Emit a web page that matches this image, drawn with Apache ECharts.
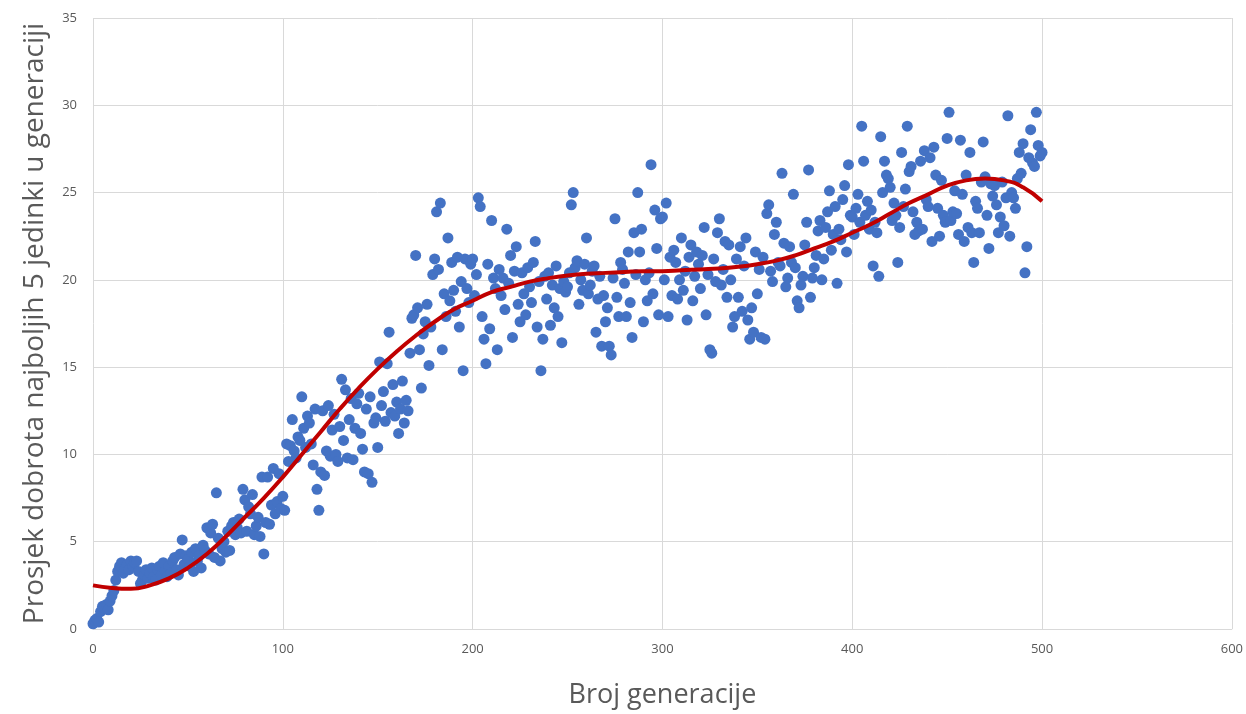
<!DOCTYPE html>
<html>
<head>
<meta charset="utf-8">
<script src="https://cdn.jsdelivr.net/npm/echarts@6/dist/echarts.min.js"></script>
<style>
    html, body { margin: 0; padding: 0; background: #fff; }
    #chart { width: 1246px; height: 714px; }
</style>
</head>
<body>
<div id="chart"></div>
<script>
// average fitness of best 5 per generation, generation 0..500
var fitness = [
    0.3, 0.5, 0.6, 0.4, 1.0, 1.3, 1.2, 1.4, 1.1, 1.6,
    1.9, 2.2, 2.8, 3.3, 3.6, 3.8, 3.2, 3.5, 3.7, 3.4,
    3.9, 3.6, 3.8, 3.9, 3.3, 2.6, 2.8, 3.1, 3.4, 2.9,
    3.2, 3.5, 3.0, 2.8, 3.4, 3.6, 3.1, 3.8, 3.3, 3.0,
    3.6, 3.2, 3.9, 4.1, 3.4, 3.1, 4.3, 5.1, 3.7, 4.2,
    4.0, 3.6, 4.4, 3.3, 4.6, 3.9, 4.2, 3.5, 4.8, 4.5,
    5.8, 4.3, 5.5, 6.0, 4.1, 7.8, 5.2, 3.9, 4.6, 5.0,
    4.4, 5.6, 4.5, 5.9, 6.1, 5.4, 5.8, 6.3, 5.5, 8.0,
    7.4, 5.6, 7.0, 6.6, 7.7, 5.4, 5.9, 6.4, 5.3, 8.7,
    4.3, 6.1, 8.7, 6.0, 7.1, 9.2, 6.6, 7.3, 8.9, 6.9,
    7.6, 6.8, 10.6, 9.6, 10.5, 12.0, 10.2, 9.8, 11.0, 10.8,
    13.3, 11.5, 10.4, 12.2, 11.8, 10.6, 9.4, 12.6, 8.0, 6.8,
    9.0, 12.5, 8.8, 10.2, 12.8, 9.9, 11.4, 12.3, 10.0, 9.6,
    11.6, 14.3, 10.8, 13.7, 9.8, 12.0, 13.2, 9.7, 11.5, 12.9,
    13.5, 11.2, 10.3, 9.0, 12.6, 8.9, 13.3, 8.4, 11.8, 12.1,
    10.4, 15.3, 12.8, 13.6, 11.9, 15.2, 17.0, 12.4, 14.0, 12.2,
    13.0, 11.2, 12.6, 14.2, 11.8, 13.1, 12.5, 15.8, 17.8, 18.0,
    21.4, 18.4, 16.0, 13.8, 16.9, 17.6, 18.6, 15.1, 17.3, 20.3,
    21.2, 23.9, 20.6, 24.4, 16.0, 19.2, 17.9, 22.4, 18.8, 21.0,
    19.4, 18.2, 21.3, 17.3, 19.9, 14.8, 21.2, 19.5, 18.7, 20.9,
    21.2, 19.1, 20.3, 24.7, 24.2, 17.9, 16.6, 15.2, 20.9, 17.2,
    23.4, 20.1, 19.5, 16.0, 20.6, 19.1, 20.1, 18.3, 22.9, 19.8,
    21.4, 16.7, 20.5, 21.9, 18.6, 17.6, 20.4, 19.2, 18.0, 20.7,
    19.6, 18.7, 21.0, 22.2, 17.3, 19.9, 14.8, 16.6, 20.2, 18.9,
    20.4, 17.4, 19.7, 18.4, 20.8, 17.9, 19.5, 16.4, 19.9, 19.3,
    19.6, 20.4, 24.3, 25.0, 20.7, 21.1, 18.6, 20.0, 19.4, 20.9,
    22.4, 19.2, 19.7, 20.5, 20.8, 17.0, 18.9, 20.2, 16.2, 19.1,
    17.6, 18.4, 16.2, 15.7, 20.1, 23.5, 19.0, 17.9, 21.0, 20.6,
    19.8, 17.9, 21.6, 18.7, 16.7, 22.7, 20.3, 25.0, 21.6, 22.9,
    17.6, 20.0, 18.8, 20.4, 26.6, 19.2, 24.0, 21.8, 18.0, 23.5,
    23.6, 20.0, 24.4, 17.9, 21.3, 19.1, 21.7, 21.0, 18.9, 20.0,
    22.4, 19.4, 20.5, 17.7, 21.3, 22.0, 18.8, 20.2, 21.6, 20.9,
    19.5, 21.4, 23.0, 18.0, 20.3, 16.0, 15.8, 21.2, 19.9, 22.7,
    23.5, 19.7, 20.6, 22.2, 19.0, 22.0, 20.0, 17.3, 17.9, 21.2,
    19.0, 21.9, 18.2, 20.8, 22.4, 17.7, 16.6, 18.4, 17.0, 21.6,
    19.2, 20.6, 16.7, 21.3, 16.6, 23.8, 24.3, 20.5, 19.9, 22.6,
    23.3, 21.0, 20.8, 26.1, 22.1, 19.6, 20.1, 21.9, 21.0, 24.9,
    20.7, 18.8, 18.4, 19.7, 20.2, 22.0, 23.3, 26.3, 19.0, 20.1,
    20.7, 21.4, 22.8, 23.4, 20.0, 21.2, 23.0, 23.9, 25.1, 21.7,
    22.6, 24.2, 19.8, 22.9, 22.3, 24.6, 25.4, 21.6, 26.6, 23.7,
    23.6, 22.6, 24.1, 24.9, 23.3, 28.8, 26.8, 23.7, 24.5, 22.9,
    24.0, 20.8, 23.3, 22.7, 20.2, 28.2, 25.0, 26.8, 26.0, 25.8,
    25.3, 23.4, 24.4, 23.7, 21.0, 23.0, 27.3, 24.2, 25.2, 28.8,
    26.2, 26.5, 23.9, 22.6, 23.3, 22.8, 26.8, 22.9, 27.4, 24.6,
    24.2, 27.0, 22.2, 27.6, 26.0, 24.1, 22.5, 25.7, 23.7, 23.3,
    28.1, 29.6, 23.4, 23.9, 25.1, 23.8, 22.6, 28.0, 24.9, 22.2,
    26.0, 23.0, 27.3, 22.7, 21.0, 24.5, 24.1, 22.7, 25.6, 27.9,
    25.9, 23.7, 21.8, 25.5, 24.8, 25.4, 24.3, 22.7, 23.6, 25.6,
    23.1, 24.7, 29.4, 22.5, 25.0, 24.7, 24.1, 25.8, 27.3, 26.1,
    27.8, 20.4, 21.9, 27.0, 28.6, 26.7, 26.5, 29.6, 27.7, 27.1,
    27.3
];

// polynomial trend line, read every 10 generations
var trendGen = [0, 10, 20, 30, 40, 50, 60, 70, 80, 90, 100, 110, 120, 130, 140, 150, 160, 170, 180, 190,
    200, 210, 220, 230, 240, 250, 260, 270, 280, 290, 300, 310, 320, 330, 340, 350, 360, 370, 380, 390,
    400, 410, 420, 430, 440, 450, 460, 470, 480, 490, 500];
var trendVal = [2.5, 2.35, 2.3, 2.5, 2.9, 3.5, 4.3, 5.3, 6.4, 7.5, 8.7, 10.0, 11.3, 12.6, 13.8, 14.9, 15.9, 16.8, 17.6, 18.3,
    18.8, 19.3, 19.6, 19.9, 20.1, 20.25, 20.35, 20.4, 20.45, 20.5, 20.5, 20.55, 20.6, 20.65, 20.75, 20.9, 21.1, 21.4, 21.8, 22.2,
    22.7, 23.2, 23.8, 24.4, 24.9, 25.4, 25.7, 25.8, 25.7, 25.3, 24.5];

var xTitle = 'Broj generacije';
var yTitle = 'Prosjek dobrota najboljih 5 jedinki u generaciji';

var chartDom = document.getElementById('chart');
var myChart = echarts.init(chartDom);

var scatterData = [];
for (var i = 0; i < fitness.length; i++) {
    scatterData.push([i, fitness[i]]);
}
var trendData = [];
for (var j = 0; j < trendGen.length; j++) {
    trendData.push([trendGen[j], trendVal[j]]);
}

var gridColor = '#d9d9d9';
var textColor = '#595959';

var option = {
    animation: false,
    backgroundColor: '#fff',
    grid: {
        left: 93,
        right: 14,
        top: 18,
        bottom: 85
    },
    xAxis: {
        type: 'value',
        min: 0,
        max: 600,
        interval: 100,
        name: xTitle,
        nameLocation: 'middle',
        nameGap: 53,
        nameTextStyle: { color: textColor, fontSize: 27, fontFamily: 'Open Sans' },
        axisLine: { show: true, lineStyle: { color: gridColor } },
        axisTick: { show: false },
        axisLabel: { color: textColor, fontSize: 13, fontFamily: 'Open Sans', margin: 14 },
        splitLine: { show: true, lineStyle: { color: gridColor, width: 1 } }
    },
    yAxis: {
        type: 'value',
        min: 0,
        max: 35,
        interval: 5,
        name: yTitle,
        nameLocation: 'middle',
        nameGap: 44,
        nameTextStyle: { color: textColor, fontSize: 28, fontFamily: 'Open Sans' },
        axisLine: { show: false },
        axisTick: { show: false },
        axisLabel: { color: textColor, fontSize: 13, fontFamily: 'Open Sans', margin: 16 },
        splitLine: { show: true, lineStyle: { color: gridColor, width: 1 } }
    },
    series: [
        {
            name: 'fitness',
            type: 'scatter',
            data: scatterData,
            symbol: 'circle',
            symbolSize: 11,
            itemStyle: { color: '#4472C4', opacity: 1 }
        },
        {
            name: 'trend',
            type: 'line',
            data: trendData,
            smooth: true,
            showSymbol: false,
            lineStyle: { color: '#C00000', width: 4 },
            z: 3
        }
    ]
};

option && myChart.setOption(option);
</script>
</body>
</html>
